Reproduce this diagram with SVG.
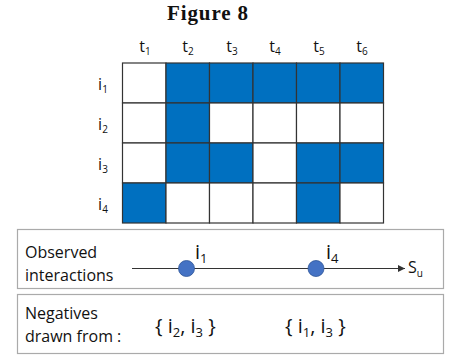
<svg xmlns="http://www.w3.org/2000/svg" width="459" height="358" viewBox="0 0 459 358">
<style>
.t{font-family:"Open Sans","Liberation Sans",sans-serif;fill:#111}
.lbl{font-size:16px}
.sub{font-size:10px}
.big{font-size:20px}
.bsub{font-size:13px}
.c{stroke:#333;stroke-width:1.2}
.b{fill:#0070C0}
.w{fill:#fff}
.box{fill:#fff;stroke:#aaa;stroke-width:1.2}
.dot{fill:#4472C4;stroke:#2f5597;stroke-width:0.8}
</style>
<defs>
<marker id="ah" markerWidth="8" markerHeight="8" refX="7" refY="4" orient="auto" markerUnits="userSpaceOnUse">
<path d="M0,0.5 L7,4 L0,7.5 Z" fill="#333"/>
</marker>
</defs>
<rect width="459" height="358" fill="#fff"/>
<text x="208" y="20" text-anchor="middle" font-family="Liberation Serif,serif" font-weight="bold" font-size="21" letter-spacing="0.9" fill="#111">Figure 8</text>
<g id="col-labels" class="t lbl" text-anchor="middle">
<text x="145" y="52">t<tspan class="sub" dy="3">1</tspan></text>
<text x="188" y="52">t<tspan class="sub" dy="3">2</tspan></text>
<text x="232" y="52">t<tspan class="sub" dy="3">3</tspan></text>
<text x="275" y="52">t<tspan class="sub" dy="3">4</tspan></text>
<text x="319" y="52">t<tspan class="sub" dy="3">5</tspan></text>
<text x="362" y="52">t<tspan class="sub" dy="3">6</tspan></text>
</g>
<g id="row-labels" class="t lbl" text-anchor="middle">
<text x="103" y="90">i<tspan class="sub" dy="3">1</tspan></text>
<text x="103" y="130">i<tspan class="sub" dy="3">2</tspan></text>
<text x="103" y="170">i<tspan class="sub" dy="3">3</tspan></text>
<text x="103" y="210">i<tspan class="sub" dy="3">4</tspan></text>
</g>
<g id="grid" class="c">
<rect class="w" x="122.5" y="63" width="43.5" height="40"/>
<rect class="b" x="166" y="63" width="43.5" height="40"/>
<rect class="b" x="209.5" y="63" width="43.5" height="40"/>
<rect class="b" x="253" y="63" width="43.5" height="40"/>
<rect class="b" x="296.5" y="63" width="43.5" height="40"/>
<rect class="b" x="340" y="63" width="43.5" height="40"/>
<rect class="w" x="122.5" y="103" width="43.5" height="40"/>
<rect class="b" x="166" y="103" width="43.5" height="40"/>
<rect class="w" x="209.5" y="103" width="43.5" height="40"/>
<rect class="w" x="253" y="103" width="43.5" height="40"/>
<rect class="w" x="296.5" y="103" width="43.5" height="40"/>
<rect class="w" x="340" y="103" width="43.5" height="40"/>
<rect class="w" x="122.5" y="143" width="43.5" height="40"/>
<rect class="b" x="166" y="143" width="43.5" height="40"/>
<rect class="b" x="209.5" y="143" width="43.5" height="40"/>
<rect class="w" x="253" y="143" width="43.5" height="40"/>
<rect class="b" x="296.5" y="143" width="43.5" height="40"/>
<rect class="b" x="340" y="143" width="43.5" height="40"/>
<rect class="b" x="122.5" y="183" width="43.5" height="40"/>
<rect class="w" x="166" y="183" width="43.5" height="40"/>
<rect class="w" x="209.5" y="183" width="43.5" height="40"/>
<rect class="w" x="253" y="183" width="43.5" height="40"/>
<rect class="b" x="296.5" y="183" width="43.5" height="40"/>
<rect class="w" x="340" y="183" width="43.5" height="40"/>
</g>
<g id="observed">
<rect class="box" x="17.5" y="229.5" width="426" height="59"/>
<text class="t lbl" x="25" y="258">Observed</text>
<text class="t lbl" x="25" y="281">interactions</text>
</g>
<g id="connectors">
<line x1="132" y1="268.5" x2="405" y2="268.5" stroke="#333" stroke-width="1.2" marker-end="url(#ah)"/>
</g>
<g id="item-i1">
<circle class="dot" cx="186.5" cy="268.5" r="8"/>
<text class="t big" x="195" y="259">i<tspan class="bsub" dy="4">1</tspan></text>
</g>
<g id="item-i4">
<circle class="dot" cx="316" cy="268.5" r="8"/>
<text class="t big" x="326" y="259">i<tspan class="bsub" dy="4">4</tspan></text>
</g>
<g id="su">
<text class="t lbl" x="408" y="273">S<tspan class="sub" dy="4">u</tspan></text>
</g>
<g id="negatives">
<rect class="box" x="17.5" y="294.5" width="426" height="59"/>
<text class="t lbl" x="25" y="319">Negatives</text>
<text class="t lbl" x="25" y="342">drawn from :</text>
<text class="t big" x="155" y="333">{ i<tspan class="bsub" dy="4">2</tspan><tspan dy="-4">, i</tspan><tspan class="bsub" dy="4">3</tspan><tspan dy="-4"> }</tspan></text>
<text class="t big" x="285" y="333">{ i<tspan class="bsub" dy="4">1</tspan><tspan dy="-4">, i</tspan><tspan class="bsub" dy="4">3</tspan><tspan dy="-4"> }</tspan></text>
</g>
</svg>
